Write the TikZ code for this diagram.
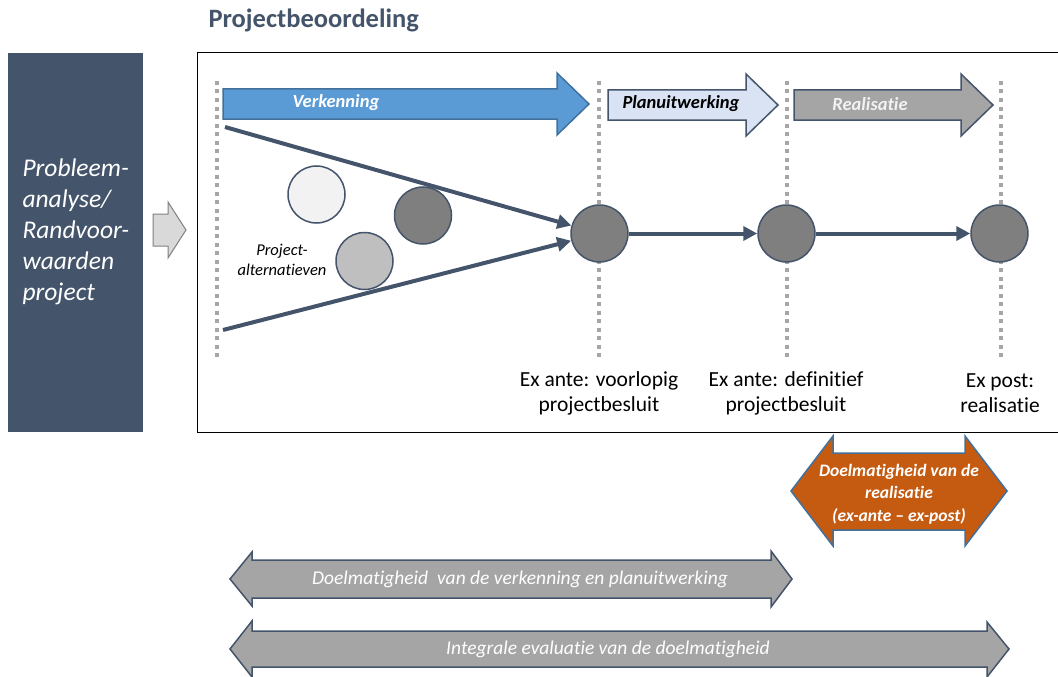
\documentclass[tikz,border=0pt]{standalone}
\usepackage{fontspec}
\setmainfont{Carlito}[RawFeature={-liga;-clig;-dlig}]
\usetikzlibrary{arrows.meta}
\definecolor{slate}{HTML}{44546A}
\definecolor{vblue}{HTML}{5B9BD5}
\definecolor{vbluedark}{HTML}{41719C}
\definecolor{plblue}{HTML}{DAE3F3}
\definecolor{rgray}{HTML}{A5A5A5}
\definecolor{cdark}{HTML}{7F7F7F}
\definecolor{clight}{HTML}{F2F2F2}
\definecolor{cmid}{HTML}{BFBFBF}
\definecolor{orng}{HTML}{C55A11}
\definecolor{sarrow}{HTML}{D9D9D9}
\definecolor{dotgray}{HTML}{A6A6A6}
\tikzset{
  blockarrow/.style={line width=1.5pt, line join=miter},
  phase/.style={font=\fontsize{18.5}{22}\selectfont\bfseries\itshape},
  milestone/.style={circle, draw=slate, line width=1.5pt, fill=cdark, minimum size=57pt, inner sep=0pt},
  alt/.style={circle, draw=slate, line width=1.5pt, minimum size=57pt, inner sep=0pt},
  conn/.style={draw=slate, line width=4pt, -{Triangle[length=14pt,width=14pt]}, shorten >=0pt},
  dotline/.style={draw=dotgray, line width=4.5pt, dash pattern=on 4pt off 4.5pt},
  lbl/.style={align=center, font=\fontsize{21.5}{25}\selectfont},
  evaltext/.style={text=white, font=\fontsize{19.5}{22}\selectfont\itshape},
}
\begin{document}
\begin{tikzpicture}[x=1pt,y=-1pt]
\useasboundingbox (0,0) rectangle (1058,677);
% title
\node[text=slate, font=\fontsize{26.5}{30}\selectfont\bfseries, anchor=west] (title) at (205,20) {Projectbeoordeling};
% left box
\fill[slate] (8,53) rectangle (143,432);
\node[anchor=west, align=left, text=white, font=\fontsize{25.5}{31}\selectfont\itshape] (probleem) at (19,232)
  {Probleem-\\analyse/\\Randvoor-\\waarden\\project};
% small arrow
\draw[blockarrow, draw=gray, fill=sarrow, line width=1pt] (153,214)--(168,214)--(168,202)--(186,230)--(168,258)--(168,246)--(153,246)--cycle;
% frame
\draw[black, line width=1pt] (1062,53) -- (197,53) -- (197,432) -- (1062,432);
% dotted lines
\foreach \xx in {217,599,787,1001} { \draw[dotline] (\xx,81) -- (\xx,357); }
% phase arrows
\draw[blockarrow, draw=vbluedark, fill=vblue] (223,89)--(557,89)--(557,73)--(589,104)--(557,135)--(557,119)--(223,119)--cycle;
\node[phase, text=white] (verk) at (336,103) {Verkenning};
\draw[blockarrow, draw=slate, fill=plblue] (608,90)--(746,90)--(746,74)--(778,105)--(746,136)--(746,120)--(608,120)--cycle;
\node[phase, text=black] (plan) at (681,104) {Planuitwerking};
\draw[blockarrow, draw=slate, fill=rgray] (794,90)--(961,90)--(961,74)--(993,105)--(961,136)--(961,120)--(794,120)--cycle;
\node[phase, text=clight] (real) at (870,104) {Realisatie};
% alternatives
\node[alt, fill=clight] (a1) at (316.5,194.5) {};
\node[alt, fill=cdark] (a2) at (423,215.5) {};
\node[alt, fill=cmid] (a3) at (364.5,261) {};
\node[align=center, font=\fontsize{16.5}{20}\selectfont\itshape] (alttxt) at (282,260) {Project-\\alternatieven};
% milestones
\node[milestone] (m1) at (599.5,233.5) {};
\node[milestone] (m2) at (786.5,233.5) {};
\node[milestone] (m3) at (999.5,233.5) {};
\coordinate (up) at (225,127);
\coordinate (lo) at (223,330);
\draw[conn] (up) -- (m1);
\draw[conn] (lo) -- (m1);
\draw[conn] (m1) -- (m2);
\draw[conn] (m2) -- (m3);
% milestone labels
\node[lbl] (l1) at (599,393) {Ex ante: voorlopig\\projectbesluit};
\node[lbl] (l2) at (786,393) {Ex ante: definitief\\projectbesluit};
\node[lbl] (l3) at (1000,393) {Ex post:\\realisatie};
% orange double arrow
\draw[blockarrow, draw=vbluedark, fill=orng] (791,491)--(833,436)--(833,453)--(965,453)--(965,436)--(1007,491)--(965,546)--(965,530)--(833,530)--(833,546)--cycle;
\node[align=center, text=white, font=\fontsize{17.5}{22.5}\selectfont\bfseries\itshape] (doelreal) at (899,494)
  {Doelmatigheid van de\\realisatie\\(ex-ante -- ex-post)};
% grey double arrows
\draw[blockarrow, draw=slate, fill=rgray] (230,579)--(252,552)--(252,560)--(771,560)--(771,551)--(792,579)--(771,607)--(771,598)--(252,598)--(252,606)--cycle;
\node[evaltext] (e1) at (520,579) {Doelmatigheid\ \ van de verkenning en planuitwerking};
\draw[blockarrow, draw=slate, fill=rgray] (230,649)--(252,621)--(252,631)--(987,631)--(987,622)--(1009,649)--(987,677)--(987,667)--(252,667)--(252,677)--cycle;
\node[evaltext] (e2) at (608,649) {Integrale evaluatie van de doelmatigheid};
\end{tikzpicture}
\end{document}
